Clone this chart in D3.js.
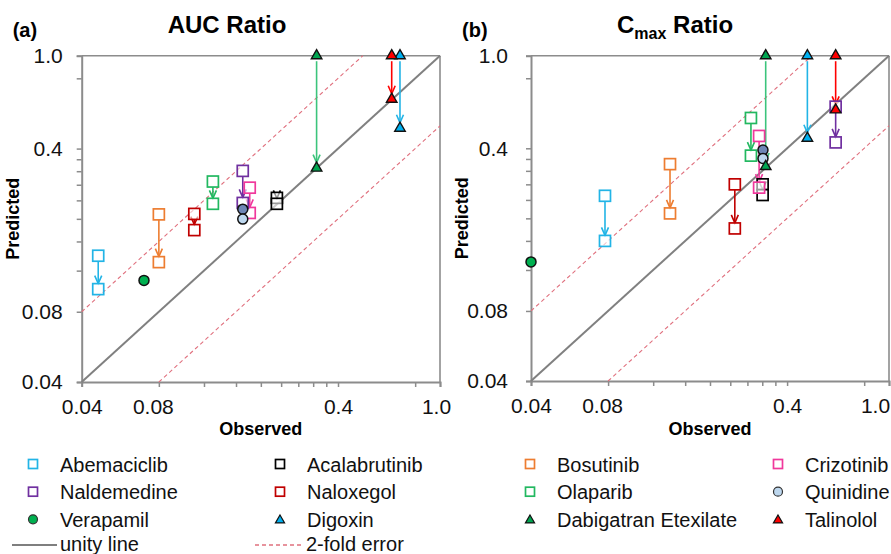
<!DOCTYPE html>
<html>
<head>
<meta charset="utf-8">
<script src="https://cdn.jsdelivr.net/npm/d3@7"></script>
<style>
  body { margin: 0; background: #fff; }
  svg { font-family: Arial, "Liberation Sans", sans-serif; }
</style>
</head>
<body>
<div id="wrapper"></div>
<script>
// drugs in legend order (row by row, 4 columns)
const drugs = ["Abemaciclib", "Acalabrutinib", "Bosutinib", "Crizotinib",
               "Naldemedine", "Naloxegol", "Olaparib", "Quinidine",
               "Verapamil", "Digoxin", "Dabigatran Etexilate", "Talinolol"];
const shapes = ["square", "square", "square", "square",
                "square", "square", "square", "circle",
                "circle", "triangle", "triangle", "triangle"];
const colors = ["#22B4E6", "#000000", "#ED7D31", "#F0389C",
                "#7030A0", "#C00000", "#22B860", "#BDD7EE",
                "#00B050", "#00B0F0", "#00A651", "#FF0000"];
const arrowColors = ["#22B4E6", "#000000", "#ED7D31", "#F0389C",
                     "#7030A0", "#C00000", "#22B860", null,
                     null, "#22B4E6", "#3CC47C", "#FF0000"];

// AUC ratio: observed, first prediction, refined prediction
const aucObserved   = [0.0464, 0.231, 0.080, 0.181, 0.170, 0.110, 0.130, 0.170, 0.070, 0.698, 0.330, 0.648];
const aucPredFirst  = [0.139, 0.246, 0.209, 0.272, 0.321, 0.210, 0.289, 0.220, null, 1.0, 1.0, 1.0];
const aucPredFinal  = [0.100, 0.232, 0.1305, 0.212, 0.234, 0.179, 0.232, 0.1995, 0.109, 0.489, 0.330, 0.651];

// Cmax ratio
const cmaxObserved  = [0.0778, 0.321, 0.1396, 0.311, 0.619, 0.250, 0.289, 0.322, 0.040, 0.480, 0.330, 0.619];
const cmaxPredFirst = [0.250, 0.280, 0.342, 0.452, 0.604, 0.280, 0.54, 0.393, null, 1.0, 1.0, 1.0];
const cmaxPredFinal = [0.160, 0.252, 0.210, 0.271, 0.424, 0.181, 0.372, 0.362, 0.130, 0.442, 0.334, 0.585];

const tickValues = [0.04, 0.08, 0.12, 0.16, 0.2, 0.24, 0.28, 0.32, 0.36, 0.4, 0.8, 1.0];
const tickLabels = { 0.04: "0.04", 0.08: "0.08", 0.4: "0.4", 1: "1.0" };

const width = 891, height = 554;
const svg = d3.select("#wrapper").append("svg")
    .attr("width", width).attr("height", height);

const axisGray = "#8c8c8c";

function marker(g, shape, x, y, color, fill) {
    if (shape === "square") {
        g.append("rect").attr("x", x - 5.5).attr("y", y - 5.5)
            .attr("width", 11).attr("height", 11)
            .attr("fill", "#fff").attr("fill-opacity", 0.6)
            .attr("stroke", color).attr("stroke-width", 1.7);
    } else if (shape === "circle") {
        g.append("circle").attr("cx", x).attr("cy", y).attr("r", 5)
            .attr("fill", fill || color).attr("stroke", "#111").attr("stroke-width", 1.5);
    } else {
        g.append("path").attr("d", d3.symbol(d3.symbolTriangle, 48)())
            .attr("transform", `translate(${x},${y})`)
            .attr("fill", color).attr("stroke", "#111").attr("stroke-width", 1.4);
    }
}

function drawPanel(opt) {
    const x = d3.scaleLog().domain([0.04, 1]).range([opt.left, opt.right]);
    const y = d3.scaleLog().domain([0.04, 1]).range([opt.bottom, opt.top]);
    const g = svg.append("g");

    // frame (top/right)
    g.append("line").attr("x1", opt.left).attr("x2", opt.right).attr("y1", opt.top).attr("y2", opt.top)
        .attr("stroke", axisGray).attr("stroke-width", 1.6);
    g.append("line").attr("x1", opt.right).attr("x2", opt.right).attr("y1", opt.top).attr("y2", opt.bottom)
        .attr("stroke", axisGray).attr("stroke-width", 1.6);

    const xAxis = d3.axisBottom(x).tickValues(tickValues).tickSize(5).tickPadding(12)
        .tickFormat(d => tickLabels[d] || "");
    const yAxis = d3.axisLeft(y).tickValues(tickValues).tickSize(5).tickPadding(opt.yPad)
        .tickFormat(d => tickLabels[d] || "");

    const gx = g.append("g").attr("transform", `translate(0,${opt.bottom})`).call(xAxis);
    const gy = g.append("g").attr("transform", `translate(${opt.left},0)`).call(yAxis);
    [gx, gy].forEach(a => {
        a.select(".domain").attr("stroke", axisGray).attr("stroke-width", 2);
        a.selectAll(".tick line").attr("stroke", axisGray).attr("stroke-width", 1.5);
        a.selectAll(".tick text").attr("fill", "#111").style("font-size", "21px")
            .style("font-family", "Arial, 'Liberation Sans', sans-serif");
    });
    gx.selectAll(".tick text").filter(d => d === 0.08).attr("dx", -6);
    gx.selectAll(".tick text").filter(d => d === 1).attr("dx", opt.lastDx);

    // unity and 2-fold lines
    const line = d3.line().x(d => x(d[0])).y(d => y(d[1]));
    g.append("path").attr("d", line([[0.04, 0.04], [1, 1]]))
        .attr("stroke", "#808080").attr("stroke-width", 2).attr("fill", "none");
    g.append("path").attr("d", line([[0.04, 0.08], [0.5, 1]]))
        .attr("stroke", "#E0707E").attr("stroke-width", 1.1).attr("stroke-dasharray", "4,3").attr("fill", "none");
    g.append("path").attr("d", line([[0.08, 0.04], [1, 0.5]]))
        .attr("stroke", "#E0707E").attr("stroke-width", 1.1).attr("stroke-dasharray", "4,3").attr("fill", "none");

    // arrows from first to refined prediction
    drugs.forEach((name, i) => {
        const c = arrowColors[i];
        if (opt.first[i] == null || !c) return;
        const px = x(opt.obs[i]);
        const y0 = y(opt.first[i]) + 5.5;
        const tip = y(opt.final[i]) - 5.5;
        if (tip > y0) {
            g.append("line").attr("x1", px).attr("x2", px).attr("y1", y0).attr("y2", tip)
                .attr("stroke", c).attr("stroke-width", 1.6);
        }
        g.append("path").attr("d", `M${px - 3.5},${tip - 8}L${px},${tip}L${px + 3.5},${tip - 8}`)
            .attr("stroke", c).attr("stroke-width", 1.6).attr("fill", "none");
    });

    // markers
    drugs.forEach((name, i) => {
        const px = x(opt.obs[i]);
        if (opt.first[i] != null) {
            marker(g, shapes[i], px, y(opt.first[i]), colors[i], name === "Quinidine" ? "#6F86B5" : null);
        }
        marker(g, shapes[i], px, y(opt.final[i]), colors[i]);
    });

    // labels
    svg.append("text").attr("x", opt.left - 69).attr("y", 37)
        .style("font-size", "20px").style("font-weight", "bold").text(opt.tag);
    const t = svg.append("text").attr("x", opt.left + 86).attr("y", 33)
        .style("font-size", "24px").style("font-weight", "bold");
    opt.title(t);
    svg.append("text").attr("x", (opt.left + opt.right) / 2).attr("y", 435)
        .attr("text-anchor", "middle").style("font-size", "18px").style("font-weight", "bold")
        .text("Observed");
    svg.append("text")
        .attr("transform", `translate(${opt.left - 63},${(opt.top + opt.bottom) / 2}) rotate(-90)`)
        .attr("text-anchor", "middle").style("font-size", "18px").style("font-weight", "bold")
        .text("Predicted");
}

drawPanel({
    left: 81.7, right: 440, top: 55.7, bottom: 382, yPad: 14, lastDx: -4, tag: "(a)",
    obs: aucObserved, first: aucPredFirst, final: aucPredFinal,
    title: t => t.text("AUC Ratio")
});
drawPanel({
    left: 531, right: 889, top: 55.7, bottom: 381, yPad: 18, lastDx: -14, tag: "(b)",
    obs: cmaxObserved, first: cmaxPredFirst, final: cmaxPredFinal,
    title: t => {
        t.append("tspan").text("C");
        t.append("tspan").attr("dy", 6).style("font-size", "16px").text("max");
        t.append("tspan").attr("dy", -6).text(" Ratio");
    }
});

// legend
const legCols = [33, 280, 530, 778];
const legRows = [464, 491.7, 519.3, 545];
const leg = svg.append("g");
drugs.forEach((name, i) => {
    const cx = legCols[i % 4], cy = legRows[Math.floor(i / 4)];
    const s = shapes[i];
    if (s === "square") {
        leg.append("rect").attr("x", cx - 4.5).attr("y", cy - 4.5).attr("width", 9).attr("height", 9)
            .attr("fill", "none").attr("stroke", colors[i]).attr("stroke-width", 1.7);
    } else if (s === "circle") {
        leg.append("circle").attr("cx", cx).attr("cy", cy).attr("r", 4.5)
            .attr("fill", colors[i]).attr("stroke", "#333").attr("stroke-width", 1.2);
    } else {
        leg.append("path").attr("d", d3.symbol(d3.symbolTriangle, 36)())
            .attr("transform", `translate(${cx},${cy + 1})`)
            .attr("fill", colors[i]).attr("stroke", "#111").attr("stroke-width", 1.2);
    }
    leg.append("text").attr("x", cx + 27).attr("y", cy + 7.5)
        .style("font-size", "20px").attr("fill", "#111").text(name);
});
leg.append("line").attr("x1", 12).attr("x2", 57).attr("y1", legRows[3]).attr("y2", legRows[3])
    .attr("stroke", "#555").attr("stroke-width", 1.3);
leg.append("text").attr("x", 60).attr("y", legRows[3] + 5.5).style("font-size", "20px").attr("fill", "#111").text("unity line");
leg.append("line").attr("x1", 255).attr("x2", 303).attr("y1", legRows[3]).attr("y2", legRows[3])
    .attr("stroke", "#E0707E").attr("stroke-width", 1.3).attr("stroke-dasharray", "4,3");
leg.append("text").attr("x", 306).attr("y", legRows[3] + 5.5).style("font-size", "20px").attr("fill", "#111").text("2-fold error");
</script>
</body>
</html>
